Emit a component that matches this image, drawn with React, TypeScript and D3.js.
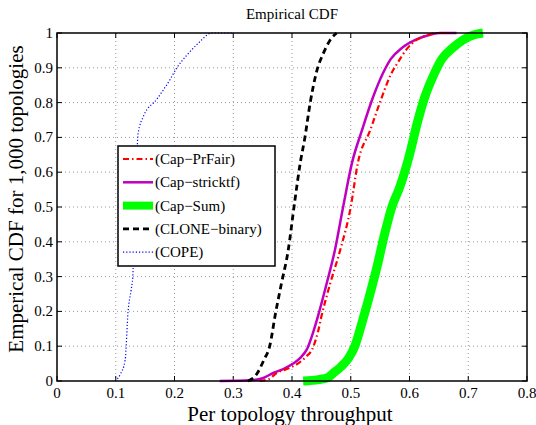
import React from "react";
import * as d3 from "d3";

const xTicks = [0, 0.1, 0.2, 0.3, 0.4, 0.5, 0.6, 0.7, 0.8];
const yTicks = [0, 0.1, 0.2, 0.3, 0.4, 0.5, 0.6, 0.7, 0.8, 0.9, 1];

// [throughput, cdf]
const copeX = [0.099, 0.108, 0.116, 0.121, 0.126, 0.129, 0.131, 0.133, 0.135, 0.138, 0.147, 0.17, 0.192, 0.204, 0.223, 0.24, 0.264, 0.298];
const copeY = [0, 0.02, 0.06, 0.2, 0.26, 0.3, 0.4, 0.5, 0.6, 0.71, 0.76, 0.81, 0.865, 0.9, 0.94, 0.97, 1, 1];

const cloneX = [0.325, 0.34, 0.352, 0.362, 0.372, 0.382, 0.393, 0.405, 0.414, 0.422, 0.431, 0.436, 0.442, 0.453, 0.465, 0.476];
const cloneY = [0, 0.02, 0.06, 0.1, 0.195, 0.28, 0.37, 0.52, 0.626, 0.7, 0.8, 0.845, 0.89, 0.94, 0.98, 1];

const strictX = [0.277, 0.33, 0.35, 0.368, 0.386, 0.402, 0.415, 0.425, 0.436, 0.444, 0.459, 0.473, 0.487, 0.502, 0.519, 0.538, 0.555, 0.568, 0.587, 0.61, 0.635, 0.652, 0.68];
const strictY = [0, 0.002, 0.008, 0.023, 0.035, 0.05, 0.068, 0.09, 0.14, 0.185, 0.28, 0.376, 0.5, 0.626, 0.72, 0.816, 0.885, 0.925, 0.957, 0.98, 0.995, 1, 1];

const fairX = [0.345, 0.36, 0.374, 0.392, 0.41, 0.424, 0.434, 0.444, 0.45, 0.465, 0.482, 0.5, 0.512, 0.533, 0.553, 0.568, 0.58, 0.596, 0.61, 0.63, 0.647, 0.67];
const fairY = [0, 0.005, 0.023, 0.035, 0.05, 0.07, 0.09, 0.14, 0.185, 0.28, 0.376, 0.5, 0.626, 0.72, 0.816, 0.88, 0.915, 0.955, 0.978, 0.994, 1, 1];

const sumX = [0.419, 0.445, 0.462, 0.472, 0.484, 0.496, 0.507, 0.519, 0.53, 0.545, 0.558, 0.57, 0.584, 0.6, 0.613, 0.626, 0.64, 0.655, 0.672, 0.691, 0.71, 0.725];
const sumY = [0, 0.004, 0.011, 0.025, 0.042, 0.065, 0.1, 0.167, 0.233, 0.33, 0.425, 0.5, 0.56, 0.65, 0.74, 0.816, 0.875, 0.925, 0.955, 0.98, 0.995, 1];

const seriesNames = ["(Cap\u2212PrFair)", "(Cap\u2212stricktf)", "(Cap\u2212Sum)", "(CLONE\u2212binary)", "(COPE)"];

const W = 536, H = 425;
const left = 57, right = 527, top = 33, bottom = 381;

export default function App() {
  const x = d3.scaleLinear().domain([0, 0.8]).range([left, right]);
  const y = d3.scaleLinear().domain([0, 1]).range([bottom, top]);
  const zip = (xs: number[], ys: number[]) => xs.map((v, i) => [v, ys[i]] as [number, number]);
  const line = d3.line<[number, number]>().x(d => x(d[0])).y(d => y(d[1])).curve(d3.curveMonotoneX);

  const styles = [
    { data: zip(fairX, fairY), stroke: "#ff0000", width: 2.2, dash: "6,3,1.5,3" },
    { data: zip(strictX, strictY), stroke: "#bf00bf", width: 2.5, dash: "" },
    { data: zip(sumX, sumY), stroke: "#00ff00", width: 9, dash: "" },
    { data: zip(cloneX, cloneY), stroke: "#000000", width: 2.8, dash: "6,4" },
    { data: zip(copeX, copeY), stroke: "#0000ff", width: 1.2, dash: "1.2,2" },
  ];
  const drawOrder = [2, 1, 0, 3, 4];

  const serif = "'Liberation Serif', 'DejaVu Serif', serif";
  const legX = 118, legY = 146, legW = 157, legH = 120;

  return (
    <svg width={W} height={H} style={{ position: "absolute", left: 0, top: 0, background: "#fff" }}>
      <rect x={0} y={0} width={W} height={H} fill="#fff" />
      {xTicks.slice(1, -1).map(t => (
        <line key={"gx" + t} x1={x(t)} x2={x(t)} y1={top} y2={bottom} stroke="#999" strokeWidth={1} strokeDasharray="1,3" />
      ))}
      {yTicks.slice(1, -1).map(t => (
        <line key={"gy" + t} x1={left} x2={right} y1={y(t)} y2={y(t)} stroke="#999" strokeWidth={1} strokeDasharray="1,3" />
      ))}
      {xTicks.map(t => (
        <g key={"tx" + t}>
          <line x1={x(t)} x2={x(t)} y1={bottom} y2={bottom - 5} stroke="#000" />
          <line x1={x(t)} x2={x(t)} y1={top} y2={top + 5} stroke="#000" />
          <text x={x(t)} y={bottom + 17} textAnchor="middle" fontFamily={serif} fontSize={15}>{String(t)}</text>
        </g>
      ))}
      {yTicks.map(t => (
        <g key={"ty" + t}>
          <line x1={left} x2={left + 5} y1={y(t)} y2={y(t)} stroke="#000" />
          <line x1={right} x2={right - 5} y1={y(t)} y2={y(t)} stroke="#000" />
          <text x={left - 4} y={y(t) + 5} textAnchor="end" fontFamily={serif} fontSize={15}>{String(t)}</text>
        </g>
      ))}
      <g>
        {drawOrder.map(i => (
          <path key={"s" + i} d={line(styles[i].data) || ""} fill="none" stroke={styles[i].stroke}
            strokeWidth={styles[i].width} strokeDasharray={styles[i].dash || undefined} strokeLinejoin="round" />
        ))}
      </g>
      <rect x={left} y={top} width={right - left} height={bottom - top} fill="none" stroke="#000" strokeWidth={1.5} />
      <rect x={legX} y={legY} width={legW} height={legH} fill="#fff" stroke="#000" strokeWidth={1.5} />
      {seriesNames.map((name, i) => {
        const cy = legY + 13 + i * 23.3;
        const s = styles[i];
        return (
          <g key={"lg" + i}>
            <line x1={legX + 5} x2={legX + 35} y1={cy} y2={cy} stroke={s.stroke} strokeWidth={Math.min(s.width, 8)}
              strokeDasharray={s.dash || undefined} />
            <text x={legX + 37} y={cy + 5} fontFamily={serif} fontSize={15}>{name}</text>
          </g>
        );
      })}
      <text x={(left + right) / 2} y={19} textAnchor="middle" fontFamily={serif} fontSize={15}>Empirical CDF</text>
      <text x={290} y={421} textAnchor="middle" fontFamily={serif} fontSize={21}>Per topology throughput</text>
      <text transform={`translate(23,199) rotate(-90)`} textAnchor="middle" fontFamily={serif} fontSize={21}>Emperical CDF for 1,000 topologies</text>
    </svg>
  );
}
